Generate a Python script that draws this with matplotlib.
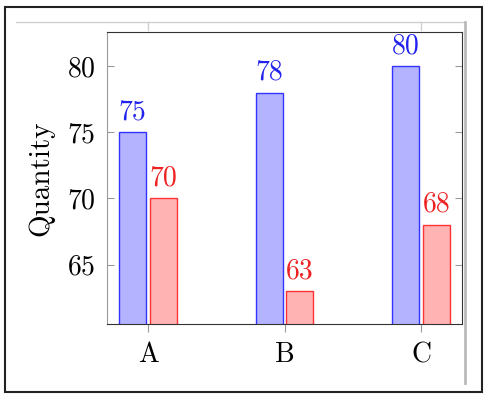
import numpy as np
import matplotlib
matplotlib.use("Agg")
import matplotlib.pyplot as plt
from matplotlib.patches import Rectangle
from matplotlib.lines import Line2D

categories = ['A', 'B', 'C']
series1 = [75, 78, 80]
series2 = [70, 63, 68]
yticks = [65, 70, 75, 80]

plt.rcParams['font.family'] = ['cmr10', 'DejaVu Serif']
plt.rcParams['mathtext.fontset'] = 'cm'
plt.rcParams['axes.formatter.use_mathtext'] = True

fig = plt.figure(figsize=(4.9, 3.96), dpi=100)
ax = fig.add_axes([106.5 / 490, 1 - 324 / 396, (462 - 106.5) / 490, (324 - 32) / 396])

x = np.arange(len(categories))
w = 0.2
off = 0.112
ax.bar(x - off, series1, width=w, bottom=0, color='#b3b3ff', edgecolor='#3333ff', linewidth=1)
ax.bar(x + off, series2, width=w, bottom=0, color='#ffb3b3', edgecolor='#ff3333', linewidth=1)

# value labels above bars
for xi, v in zip(x, series1):
    ax.annotate(str(v), (xi - off, v), xytext=(0, 5), textcoords='offset points',
                ha='center', va='bottom', color='#2222ee', fontsize=20)
for xi, v in zip(x, series2):
    ax.annotate(str(v), (xi + off, v), xytext=(0, 5), textcoords='offset points',
                ha='center', va='bottom', color='#ee2222', fontsize=20)

ax.set_xlim(-0.304, 2.3)
ax.set_ylim(60.5, 82.6)
ax.set_xticks(x)
ax.set_xticklabels(categories)
ax.set_yticks(yticks)
ax.tick_params(axis='y', direction='in', right=True, length=5, color='#999999', labelsize=20, pad=8)
ax.tick_params(axis='x', direction='out', length=6, color='#999999', labelsize=20, pad=7)
ax.set_ylabel('Quantity', fontsize=21, labelpad=9)

for s in ['top', 'right', 'bottom']:
    ax.spines[s].set_color('#333333')
ax.spines['left'].set_color('#999999')

# screenshot artifacts: faint lines behind the plot and outer frame
fig.add_artist(Line2D([16 / 490, 465 / 490], [1 - 22 / 396, 1 - 22 / 396], color='#d0d0d0', lw=1))
fig.add_artist(Line2D([148 / 490, 148 / 490], [1 - 22 / 396, 1 - 30 / 396], color='#d0d0d0', lw=1))
fig.add_artist(Line2D([421 / 490, 421 / 490], [1 - 22 / 396, 1 - 30 / 396], color='#d0d0d0', lw=1))
fig.add_artist(Line2D([465 / 490, 465 / 490], [1 - 22 / 396, 1 - 383 / 396], color='#bbbbbb', lw=2))
fig.add_artist(Rectangle((5 / 490, 1 - 392 / 396), 477 / 490, 385 / 396, fill=False,
                         edgecolor='#222222', lw=1.5, transform=fig.transFigure))

plt.savefig('out.png', dpi=100)
